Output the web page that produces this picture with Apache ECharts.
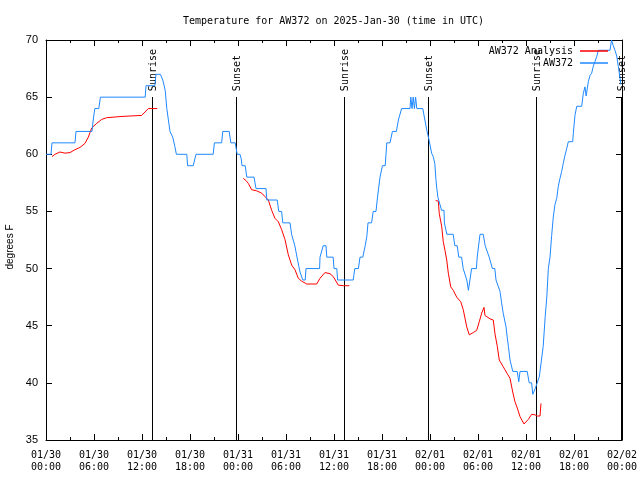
<!DOCTYPE html>
<html>
<head>
<meta charset="utf-8">
<script src="https://cdn.jsdelivr.net/npm/echarts@6/dist/echarts.min.js"></script>
<style>html,body{margin:0;padding:0;background:#fff}#c{width:640px;height:480px}</style>
</head>
<body>
<div id="c"></div>
<script>
// hours since 2025-01-30 00:00 UTC
var startUTC = Date.UTC(2025, 0, 30, 0, 0);
var xTicksHours = [0, 6, 12, 18, 24, 30, 36, 42, 48, 54, 60, 66, 72];
var yTicks = [35, 40, 45, 50, 55, 60, 65, 70];

var obsHours = [0.0,0.62,0.75,3.62,3.75,5.75,5.9,6.1,6.6,6.8,12.4,12.5,13.6,13.75,14.3,14.6,14.9,15.1,15.3,15.5,15.84,16.1,16.3,17.6,17.7,18.4,18.75,20.9,21.05,21.95,22.1,22.9,23.1,23.65,23.9,24.25,24.4,24.5,24.9,25.1,26.0,26.25,27.5,27.6,28.9,29.1,29.45,29.6,30.5,30.7,30.9,31.1,31.3,31.6,31.75,32.0,32.1,32.4,32.5,34.2,34.25,34.45,34.65,35.0,35.1,35.9,36.0,36.35,36.45,38.4,38.6,39.05,39.25,39.6,39.9,40.1,40.25,40.7,40.9,41.25,41.4,41.55,41.75,41.95,42.05,42.4,42.6,43.0,43.3,43.8,44.05,44.25,44.45,45.5,45.6,45.75,45.9,46.05,46.2,46.35,47.1,47.2,47.4,47.6,47.9,48.2,48.4,48.6,48.75,48.85,49.0,49.25,49.45,49.75,49.8,50.0,50.1,50.9,51.1,51.4,51.6,51.95,52.15,52.4,52.6,52.8,52.9,53.2,53.8,53.9,54.15,54.25,54.65,54.9,55.15,55.4,55.6,55.8,56.1,56.25,56.5,56.75,56.95,57.15,57.4,57.5,57.65,57.8,57.9,58.0,58.35,58.9,59.1,59.25,60.15,60.4,60.7,60.85,61.1,61.15,61.4,61.65,61.75,61.95,62.15,62.4,62.6,62.79,63.0,63.21,63.41,63.62,63.84,64.04,64.25,64.46,64.66,64.87,65.09,65.29,65.84,65.91,66.12,66.34,66.96,67.16,67.37,67.52,67.79,68.0,68.21,68.41,68.62,68.84,69.04,70.5,70.69,70.81,70.91,71.12,71.34,71.54,71.75,71.87];
var obsTemps = [60,60,61,61,62,62,63,64,64,65,65,66,66,67,67,66.5,65.6,64,63,62,61.5,60.7,60,60,59,59,60,60,61,61,62,62,61,61,60,60,59.6,59,59,58,58,57,57,56,56,55,55,54,54,53,53,52,52,50.2,49.7,49.7,49,49,50,50,51,51,52,52,51,51,50,50,49,49,50,50,51,51,52,52.8,54,54,55,55,56,56,58,58,59,59,61,61,62,62,63,63,64,64,65,64,65,64,65,64,64,63.6,63.6,62.1,61.2,60.1,59.8,59.2,57.7,57,56.2,56.2,55.1,55.1,54,54,53,53,52,52,51,51,50,50,49,48.1,48.1,50,50,51,51,53,53,52,52,51,51,50,50,49,49,48,47,46.1,46.1,44.9,44,43.2,43.2,42,41,41,40.1,41,41,40,40,39,39,39.5,39.5,40.5,41,41,43.2,45.8,47.5,50,51,52.9,54.5,55.6,56.15,57.2,57.9,58.5,59.2,59.9,60.5,61.1,61.1,61.8,63.4,64.2,64.2,65.3,65.9,65.1,66.35,66.9,67.1,67.7,68.1,68.55,69.1,69.1,70,70,69.5,69.1,68.6,67.7,66.65,66.1];

var anaHours1 = [0.75,1.12,1.75,2.37,3.0,3.62,4.25,4.87,5.29,5.71,6.33,6.96,7.58,9.25,10.5,11.96,12.37,12.79,13.91];
var anaTemps1 = [59.8,60.0,60.2,60.1,60.15,60.4,60.6,60.95,61.5,62.3,62.7,63.05,63.2,63.3,63.35,63.4,63.7,64.0,64.0];
var anaHours2 = [24.66,25.0,25.29,25.71,26.34,26.96,27.37,27.79,28.21,28.62,29.04,29.46,29.87,30.29,30.71,31.12,31.54,31.96,32.59,33.84,34.25,34.87,35.5,35.91,36.54,37.16,37.91];
var anaTemps2 = [57.9,57.7,57.45,56.9,56.8,56.6,56.3,56.0,55.1,54.4,54.1,53.4,52.55,51.2,50.3,49.9,49.15,48.9,48.65,48.65,49.15,49.65,49.55,49.3,48.55,48.5,48.5];
var anaHours3 = [48.71,49.04,49.16,49.46,49.66,49.87,50.09,50.29,50.59,50.91,51.34,51.84,52.16,52.59,52.91,53.41,53.84,54.16,54.46,54.75,54.87,55.5,55.91,56.12,56.41,56.66,57.16,57.66,58.0,58.34,58.62,58.91,59.25,59.75,60.0,60.29,60.71,61.12,61.41,61.75,61.87];
var anaTemps3 = [55.95,55.9,54.8,53.7,52.35,51.6,50.75,49.6,48.4,48.1,47.5,47.1,46.4,44.9,44.2,44.4,44.6,45.35,46.1,46.6,45.9,45.6,45.5,44.3,43.2,42.0,41.4,40.8,40.4,39.2,38.35,37.8,37.05,36.4,36.5,36.8,37.25,37.2,37.1,37.1,38.2];

var sunHours = [13.3, 23.76, 37.29, 47.8, 61.28, 71.84];
var sunLabels = ['Sunrise', 'Sunset', 'Sunrise', 'Sunset', 'Sunrise', 'Sunset'];
var sunLineTop = 65;

var yMin = 35, yMax = 70, xMin = 0, xMax = 72;

function zip(a, b) { return a.map(function (v, i) { return [v, b[i]]; }); }
var anaData = zip(anaHours1, anaTemps1).concat([[14.5, '-']], zip(anaHours2, anaTemps2), [[40, '-']], zip(anaHours3, anaTemps3));
var obsData = zip(obsHours, obsTemps);

function pad(n) { return (n < 10 ? '0' : '') + n; }
function fmtHour(v) {
  var d = new Date(startUTC + v * 3600000);
  return pad(d.getUTCMonth() + 1) + '/' + pad(d.getUTCDate()) + '\n' + pad(d.getUTCHours()) + ':' + pad(d.getUTCMinutes());
}

var MONO = 'DejaVu Sans Mono';
var RED = '#ff0000', BLUE = '#1e88ff';
var chart = echarts.init(document.getElementById('c'), null, { renderer: 'canvas' });
var axisCommonX = {
  type: 'value', min: xMin, max: xMax, interval: 6,
  axisLine: { show: true, onZero: false, lineStyle: { color: '#000', width: 1 } },
  axisTick: { show: true, inside: true, length: 6, lineStyle: { color: '#000' } },
  minorTick: { show: true, splitNumber: 2, length: 3, lineStyle: { color: '#000' } },
  splitLine: { show: false }
};
var axisCommonY = {
  type: 'value', min: yMin, max: yMax, interval: 5,
  axisLine: { show: true, onZero: false, lineStyle: { color: '#000', width: 1 } },
  axisTick: { show: true, inside: true, length: 6, lineStyle: { color: '#000' } },
  splitLine: { show: false }
};
var option = {
  animation: false,
  backgroundColor: '#fff',
  title: {
    text: 'Temperature for AW372 on 2025-Jan-30 (time in UTC)',
    left: 178, top: 11,
    textStyle: { fontFamily: MONO, fontSize: 10, fontWeight: 'normal', color: '#000' }
  },
  legend: {
    orient: 'vertical', right: 27, top: 40, align: 'right',
    itemWidth: 28, itemHeight: 1.5, itemGap: 0,
    textStyle: { fontFamily: MONO, fontSize: 10, color: '#000', lineHeight: 12, height: 12, padding: [0, 2, 0, 0] },
    data: [
      { name: 'AW372 Analysis', icon: 'rect', itemStyle: { color: RED } },
      { name: 'AW372', icon: 'rect', itemStyle: { color: BLUE } }
    ]
  },
  graphic: [
    { type: 'text', x: 10, y: 247, rotation: Math.PI / 2, silent: true,
      style: { text: 'degrees F', fill: '#000', font: '10px Liberation Sans',
               align: 'center', verticalAlign: 'middle', textAlign: 'center', textVerticalAlign: 'middle' } }
  ],
  grid: { left: 46, right: 18, top: 40, bottom: 40, outerBoundsMode: 'none', containLabel: false },
  xAxis: [
    Object.assign({}, axisCommonX, {
      position: 'bottom',
      axisLabel: {
        show: true, margin: 9, formatter: fmtHour, showMinLabel: true, showMaxLabel: true,
        fontFamily: MONO, fontSize: 10, lineHeight: 12, color: '#000'
      }
    }),
    Object.assign({}, axisCommonX, { position: 'top', axisLabel: { show: false } })
  ],
  yAxis: [
    Object.assign({}, axisCommonY, {
      position: 'left',
      axisLabel: { show: true, margin: 8, fontFamily: 'Liberation Sans', fontSize: 11, color: '#000' }
    }),
    Object.assign({}, axisCommonY, { position: 'right', axisLabel: { show: false } })
  ],
  series: [
    {
      name: 'AW372 Analysis', type: 'line', data: anaData,
      xAxisIndex: 0, yAxisIndex: 0,
      showSymbol: false, symbol: 'none', connectNulls: false,
      lineStyle: { color: RED, width: 1 }, itemStyle: { color: RED }
    },
    {
      name: 'AW372', type: 'line', data: obsData,
      xAxisIndex: 0, yAxisIndex: 0,
      showSymbol: false, symbol: 'none',
      lineStyle: { color: BLUE, width: 1 }, itemStyle: { color: BLUE }
    },
    {
      name: 'sun', type: 'custom', xAxisIndex: 0, yAxisIndex: 0, clip: false,
      data: sunHours.map(function (h) { return [h, sunLineTop]; }),
      renderItem: function (params, api) {
        var t = api.value(0);
        var top = api.coord([t, api.value(1)]);
        var bot = api.coord([t, yMin]);
        var x = Math.round(top[0]) + 0.5;
        return {
          type: 'group',
          children: [
            { type: 'line', shape: { x1: x, y1: Math.round(top[1]), x2: x, y2: bot[1] },
              style: { stroke: '#000', lineWidth: 1 } },
            { type: 'text', x: x + 1, y: top[1] - 6, rotation: Math.PI / 2,
              style: { text: sunLabels[params.dataIndex], fill: '#000', font: '10px ' + MONO,
                       align: 'left', verticalAlign: 'middle', textAlign: 'left', textVerticalAlign: 'middle' } }
          ]
        };
      }
    }
  ]
};
chart.setOption(option);
</script>
</body>
</html>
